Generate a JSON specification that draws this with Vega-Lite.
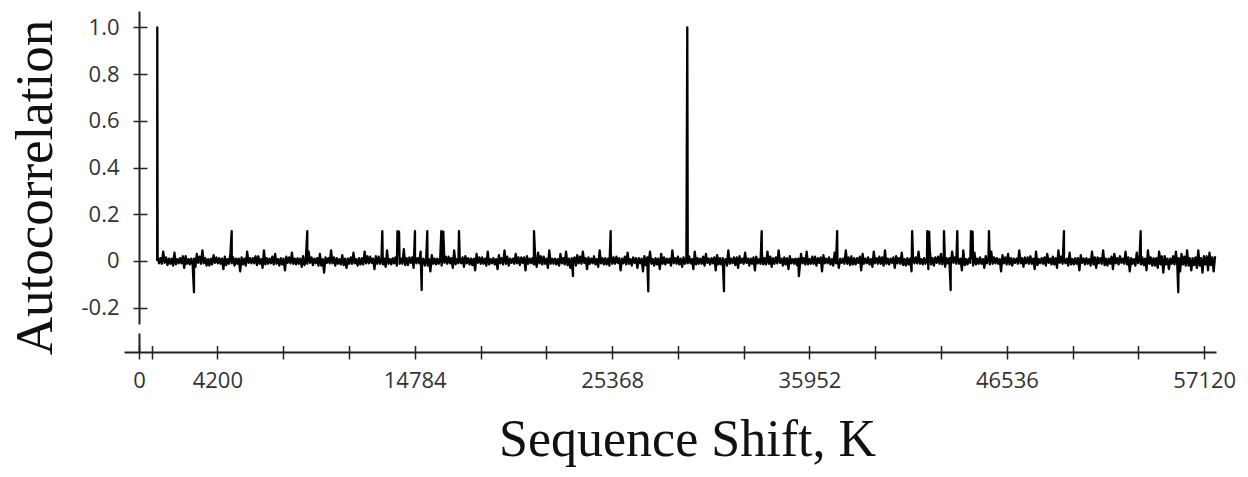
{
"$schema":"https://vega.github.io/schema/vega-lite/v6.json",
"background":"white",
"padding":{"left":8,"top":11,"right":5,"bottom":5},
"config":{"view":{"stroke":null}},
"datasets":{"ac":[
{"k":1000,"r":0.015},{"k":1075,"r":-0.01},{"k":1150,"r":0.012},{"k":1225,"r":-0.012},{"k":1300,"r":0.04},{"k":1375,"r":-0.008},{"k":1450,"r":0.015},{"k":1525,"r":-0.018},{"k":1600,"r":0.01},{"k":1675,"r":-0.012},{"k":1750,"r":0.01},{"k":1825,"r":-0.02},{"k":1900,"r":0.035},{"k":1975,"r":-0.015},{"k":2050,"r":0.008},{"k":2125,"r":-0.01},{"k":2200,"r":0.012},{"k":2275,"r":-0.01},{"k":2350,"r":0.02},{"k":2425,"r":-0.03},
{"k":2500,"r":0.02},{"k":2575,"r":-0.012},{"k":2650,"r":0.008},{"k":2725,"r":-0.015},{"k":2800,"r":0.01},{"k":2875,"r":-0.015},{"k":2950,"r":0.01},{"k":3025,"r":-0.025},{"k":3100,"r":0.03},{"k":3175,"r":-0.008},{"k":3250,"r":0.018},{"k":3325,"r":-0.012},{"k":3400,"r":0.045},{"k":3475,"r":-0.01},{"k":3550,"r":0.012},{"k":3625,"r":-0.02},{"k":3700,"r":0.008},{"k":3775,"r":-0.02},{"k":3850,"r":0.01},{"k":3925,"r":-0.015},
{"k":4000,"r":0.025},{"k":4075,"r":-0.008},{"k":4150,"r":0.015},{"k":4225,"r":-0.01},{"k":4300,"r":0.012},{"k":4375,"r":-0.012},{"k":4450,"r":0.01},{"k":4525,"r":-0.035},{"k":4600,"r":0.018},{"k":4675,"r":-0.018},{"k":4750,"r":0.008},{"k":4825,"r":-0.012},{"k":4900,"r":0.03},{"k":4975,"r":-0.01},{"k":5050,"r":0.015},{"k":5125,"r":-0.02},{"k":5200,"r":0.01},{"k":5275,"r":-0.012},{"k":5350,"r":0.01},{"k":5425,"r":-0.045},
{"k":5500,"r":0.015},{"k":5575,"r":-0.015},{"k":5650,"r":0.01},{"k":5725,"r":-0.02},{"k":5800,"r":0.04},{"k":5875,"r":-0.008},{"k":5950,"r":0.012},{"k":6025,"r":-0.01},{"k":6100,"r":0.012},{"k":6175,"r":-0.01},{"k":6250,"r":0.02},{"k":6325,"r":-0.018},{"k":6400,"r":0.02},{"k":6475,"r":-0.012},{"k":6550,"r":0.008},{"k":6625,"r":-0.03},{"k":6700,"r":0.045},{"k":6775,"r":-0.015},{"k":6850,"r":0.012},{"k":6925,"r":-0.012},
{"k":7000,"r":0.01},{"k":7075,"r":-0.01},{"k":7150,"r":0.018},{"k":7225,"r":-0.015},{"k":7300,"r":0.03},{"k":7375,"r":-0.012},{"k":7450,"r":0.008},{"k":7525,"r":-0.02},{"k":7600,"r":0.012},{"k":7675,"r":-0.015},{"k":7750,"r":0.01},{"k":7825,"r":-0.04},{"k":7900,"r":0.018},{"k":7975,"r":-0.008},{"k":8050,"r":0.015},{"k":8125,"r":-0.01},{"k":8200,"r":0.035},{"k":8275,"r":-0.012},{"k":8350,"r":0.01},{"k":8425,"r":-0.015},
{"k":8500,"r":0.012},{"k":8575,"r":-0.012},{"k":8650,"r":0.01},{"k":8725,"r":-0.025},{"k":8800,"r":0.02},{"k":8875,"r":-0.018},{"k":8950,"r":0.012},{"k":9025,"r":-0.012},{"k":9100,"r":0.04},{"k":9175,"r":-0.008},{"k":9250,"r":0.015},{"k":9325,"r":-0.018},{"k":9400,"r":0.01},{"k":9475,"r":-0.01},{"k":9550,"r":0.012},{"k":9625,"r":-0.02},{"k":9700,"r":0.03},{"k":9775,"r":-0.02},{"k":9850,"r":0.008},{"k":9925,"r":-0.05},
{"k":10000,"r":0.015},{"k":10075,"r":-0.008},{"k":10150,"r":0.012},{"k":10225,"r":-0.01},{"k":10300,"r":0.045},{"k":10375,"r":-0.01},{"k":10450,"r":0.015},{"k":10525,"r":-0.02},{"k":10600,"r":0.012},{"k":10675,"r":-0.012},{"k":10750,"r":0.008},{"k":10825,"r":-0.015},{"k":10900,"r":0.025},{"k":10975,"r":-0.018},{"k":11050,"r":0.01},{"k":11125,"r":-0.03},{"k":11200,"r":0.01},{"k":11275,"r":-0.012},{"k":11350,"r":0.015},{"k":11425,"r":-0.012},
{"k":11500,"r":0.035},{"k":11575,"r":-0.01},{"k":11650,"r":0.008},{"k":11725,"r":-0.02},{"k":11800,"r":0.012},{"k":11875,"r":-0.015},{"k":11950,"r":0.012},{"k":12025,"r":-0.015},{"k":12100,"r":0.04},{"k":12175,"r":-0.01},{"k":12250,"r":0.02},{"k":12325,"r":-0.01},{"k":12400,"r":0.018},{"k":12475,"r":-0.008},{"k":12550,"r":0.01},{"k":12625,"r":-0.035},{"k":12700,"r":0.02},{"k":12775,"r":-0.012},{"k":12850,"r":0.018},{"k":12925,"r":-0.012},
{"k":13000,"r":0.01},{"k":13075,"r":-0.015},{"k":13150,"r":0.01},{"k":13225,"r":-0.025},{"k":13300,"r":0.045},{"k":13375,"r":-0.012},{"k":13450,"r":0.008},{"k":13525,"r":-0.015},{"k":13600,"r":0.012},{"k":13675,"r":-0.01},{"k":13750,"r":0.015},{"k":13825,"r":-0.02},{"k":13900,"r":0.03},{"k":13975,"r":-0.012},{"k":14050,"r":0.01},{"k":14125,"r":-0.012},{"k":14200,"r":0.05},{"k":14275,"r":-0.018},{"k":14350,"r":0.012},{"k":14425,"r":-0.018},
{"k":14500,"r":0.015},{"k":14575,"r":-0.008},{"k":14650,"r":0.015},{"k":14725,"r":-0.03},{"k":14800,"r":0.02},{"k":14875,"r":-0.01},{"k":14950,"r":0.012},{"k":15025,"r":-0.01},{"k":15100,"r":0.04},{"k":15175,"r":-0.015},{"k":15250,"r":0.01},{"k":15325,"r":-0.02},{"k":15400,"r":0.012},{"k":15475,"r":-0.02},{"k":15550,"r":0.008},{"k":15625,"r":-0.045},{"k":15700,"r":0.025},{"k":15775,"r":-0.012},{"k":15850,"r":0.01},{"k":15925,"r":-0.015},
{"k":16000,"r":0.01},{"k":16075,"r":-0.012},{"k":16150,"r":0.01},{"k":16225,"r":-0.02},{"k":16300,"r":0.035},{"k":16375,"r":-0.008},{"k":16450,"r":0.018},{"k":16525,"r":-0.012},{"k":16600,"r":0.018},{"k":16675,"r":-0.01},{"k":16750,"r":0.012},{"k":16825,"r":-0.03},{"k":16900,"r":0.045},{"k":16975,"r":-0.015},{"k":17050,"r":0.008},{"k":17125,"r":-0.01},{"k":17200,"r":0.012},{"k":17275,"r":-0.01},{"k":17350,"r":0.015},{"k":17425,"r":-0.025},
{"k":17500,"r":0.02},{"k":17575,"r":-0.01},{"k":17650,"r":0.012},{"k":17725,"r":-0.015},{"k":17800,"r":0.01},{"k":17875,"r":-0.018},{"k":17950,"r":0.01},{"k":18025,"r":-0.04},{"k":18100,"r":0.03},{"k":18175,"r":-0.008},{"k":18250,"r":0.015},{"k":18325,"r":-0.012},{"k":18400,"r":0.015},{"k":18475,"r":-0.012},{"k":18550,"r":0.01},{"k":18625,"r":-0.02},{"k":18700,"r":0.04},{"k":18775,"r":-0.015},{"k":18850,"r":0.008},{"k":18925,"r":-0.01},
{"k":19000,"r":0.012},{"k":19075,"r":-0.015},{"k":19150,"r":0.008},{"k":19225,"r":-0.035},{"k":19300,"r":0.025},{"k":19375,"r":-0.01},{"k":19450,"r":0.012},{"k":19525,"r":-0.015},{"k":19600,"r":0.045},{"k":19675,"r":-0.012},{"k":19750,"r":0.018},{"k":19825,"r":-0.02},{"k":19900,"r":0.01},{"k":19975,"r":-0.008},{"k":20050,"r":0.01},{"k":20125,"r":-0.012},{"k":20200,"r":0.03},{"k":20275,"r":-0.01},{"k":20350,"r":0.015},{"k":20425,"r":-0.018},
{"k":20500,"r":0.015},{"k":20575,"r":-0.008},{"k":20650,"r":0.015},{"k":20725,"r":-0.04},{"k":20800,"r":0.02},{"k":20875,"r":-0.012},{"k":20950,"r":0.01},{"k":21025,"r":-0.01},{"k":21100,"r":0.012},{"k":21175,"r":-0.015},{"k":21250,"r":0.008},{"k":21325,"r":-0.025},{"k":21400,"r":0.035},{"k":21475,"r":-0.01},{"k":21550,"r":0.02},{"k":21625,"r":-0.015},{"k":21700,"r":0.018},{"k":21775,"r":-0.012},{"k":21850,"r":0.01},{"k":21925,"r":-0.03},
{"k":22000,"r":0.045},{"k":22075,"r":-0.012},{"k":22150,"r":0.01},{"k":22225,"r":-0.012},{"k":22300,"r":0.01},{"k":22375,"r":-0.015},{"k":22450,"r":0.008},{"k":22525,"r":-0.02},{"k":22600,"r":0.03},{"k":22675,"r":-0.01},{"k":22750,"r":0.012},{"k":22825,"r":-0.015},{"k":22900,"r":0.04},{"k":22975,"r":-0.018},{"k":23050,"r":0.01},{"k":23125,"r":-0.03},{"k":23200,"r":0.012},{"k":23275,"r":-0.008},{"k":23350,"r":0.015},{"k":23425,"r":-0.02},
{"k":23500,"r":0.025},{"k":23575,"r":-0.01},{"k":23650,"r":0.018},{"k":23725,"r":-0.012},{"k":23800,"r":0.04},{"k":23875,"r":-0.008},{"k":23950,"r":0.012},{"k":24025,"r":-0.035},{"k":24100,"r":0.015},{"k":24175,"r":-0.012},{"k":24250,"r":0.01},{"k":24325,"r":-0.01},{"k":24400,"r":0.02},{"k":24475,"r":-0.015},{"k":24550,"r":0.008},{"k":24625,"r":-0.025},{"k":24700,"r":0.045},{"k":24775,"r":-0.01},{"k":24850,"r":0.012},{"k":24925,"r":-0.015},
{"k":25000,"r":0.012},{"k":25075,"r":-0.015},{"k":25150,"r":0.01},{"k":25225,"r":-0.02},{"k":25300,"r":0.03},{"k":25375,"r":-0.012},{"k":25450,"r":0.015},{"k":25525,"r":-0.012},{"k":25600,"r":0.018},{"k":25675,"r":-0.008},{"k":25750,"r":0.012},{"k":25825,"r":-0.04},{"k":25900,"r":0.01},{"k":25975,"r":-0.01},{"k":26050,"r":0.018},{"k":26125,"r":-0.015},{"k":26200,"r":0.035},{"k":26275,"r":-0.012},{"k":26350,"r":0.008},{"k":26425,"r":-0.02},
{"k":26500,"r":0.015},{"k":26575,"r":-0.008},{"k":26650,"r":0.012},{"k":26725,"r":-0.03},{"k":26800,"r":0.012},{"k":26875,"r":-0.01},{"k":26950,"r":0.01},{"k":27025,"r":-0.045},{"k":27100,"r":0.02},{"k":27175,"r":-0.018},{"k":27250,"r":0.015},{"k":27325,"r":-0.01},{"k":27400,"r":0.04},{"k":27475,"r":-0.012},{"k":27550,"r":0.008},{"k":27625,"r":-0.02},{"k":27700,"r":0.012},{"k":27775,"r":-0.015},{"k":27850,"r":0.01},{"k":27925,"r":-0.035},
{"k":28000,"r":0.03},{"k":28075,"r":-0.012},{"k":28150,"r":0.015},{"k":28225,"r":-0.015},{"k":28300,"r":0.01},{"k":28375,"r":-0.008},{"k":28450,"r":0.01},{"k":28525,"r":-0.02},{"k":28600,"r":0.045},{"k":28675,"r":-0.01},{"k":28750,"r":0.012},{"k":28825,"r":-0.012},{"k":28900,"r":0.018},{"k":28975,"r":-0.015},{"k":29050,"r":0.01},{"k":29125,"r":-0.025},{"k":29200,"r":0.015},{"k":29275,"r":-0.012},{"k":29350,"r":0.008},{"k":29425,"r":-0.01},
{"k":29500,"r":0.02},{"k":29575,"r":-0.01},{"k":29650,"r":0.008},{"k":29725,"r":-0.035},{"k":29800,"r":0.04},{"k":29875,"r":-0.015},{"k":29950,"r":0.012},{"k":30025,"r":-0.012},{"k":30100,"r":0.01},{"k":30175,"r":-0.012},{"k":30250,"r":0.018},{"k":30325,"r":-0.02},{"k":30400,"r":0.03},{"k":30475,"r":-0.008},{"k":30550,"r":0.01},{"k":30625,"r":-0.015},{"k":30700,"r":0.012},{"k":30775,"r":-0.01},{"k":30850,"r":0.015},{"k":30925,"r":-0.04},
{"k":31000,"r":0.025},{"k":31075,"r":-0.015},{"k":31150,"r":0.012},{"k":31225,"r":-0.015},{"k":31300,"r":0.012},{"k":31375,"r":-0.01},{"k":31450,"r":0.008},{"k":31525,"r":-0.02},{"k":31600,"r":0.045},{"k":31675,"r":-0.012},{"k":31750,"r":0.01},{"k":31825,"r":-0.01},{"k":31900,"r":0.015},{"k":31975,"r":-0.018},{"k":32050,"r":0.015},{"k":32125,"r":-0.03},{"k":32200,"r":0.02},{"k":32275,"r":-0.008},{"k":32350,"r":0.01},{"k":32425,"r":-0.012},
{"k":32500,"r":0.035},{"k":32575,"r":-0.008},{"k":32650,"r":0.01},{"k":32725,"r":-0.02},{"k":32800,"r":0.01},{"k":32875,"r":-0.012},{"k":32950,"r":0.015},{"k":33025,"r":-0.04},{"k":33100,"r":0.018},{"k":33175,"r":-0.01},{"k":33250,"r":0.008},{"k":33325,"r":-0.012},{"k":33400,"r":0.03},{"k":33475,"r":-0.015},{"k":33550,"r":0.012},{"k":33625,"r":-0.015},{"k":33700,"r":0.04},{"k":33775,"r":-0.012},{"k":33850,"r":0.018},{"k":33925,"r":-0.025},
{"k":34000,"r":0.012},{"k":34075,"r":-0.012},{"k":34150,"r":0.015},{"k":34225,"r":-0.01},{"k":34300,"r":0.045},{"k":34375,"r":-0.008},{"k":34450,"r":0.01},{"k":34525,"r":-0.02},{"k":34600,"r":0.015},{"k":34675,"r":-0.015},{"k":34750,"r":0.012},{"k":34825,"r":-0.035},{"k":34900,"r":0.02},{"k":34975,"r":-0.01},{"k":35050,"r":0.008},{"k":35125,"r":-0.012},{"k":35200,"r":0.01},{"k":35275,"r":-0.018},{"k":35350,"r":0.01},{"k":35425,"r":-0.03},
{"k":35500,"r":0.03},{"k":35575,"r":-0.01},{"k":35650,"r":0.012},{"k":35725,"r":-0.015},{"k":35800,"r":0.04},{"k":35875,"r":-0.015},{"k":35950,"r":0.008},{"k":36025,"r":-0.012},{"k":36100,"r":0.018},{"k":36175,"r":-0.012},{"k":36250,"r":0.018},{"k":36325,"r":-0.02},{"k":36400,"r":0.012},{"k":36475,"r":-0.008},{"k":36550,"r":0.015},{"k":36625,"r":-0.045},{"k":36700,"r":0.025},{"k":36775,"r":-0.01},{"k":36850,"r":0.01},{"k":36925,"r":-0.01},
{"k":37000,"r":0.015},{"k":37075,"r":-0.015},{"k":37150,"r":0.008},{"k":37225,"r":-0.02},{"k":37300,"r":0.035},{"k":37375,"r":-0.01},{"k":37450,"r":0.012},{"k":37525,"r":-0.03},{"k":37600,"r":0.01},{"k":37675,"r":-0.008},{"k":37750,"r":0.01},{"k":37825,"r":-0.012},{"k":37900,"r":0.045},{"k":37975,"r":-0.012},{"k":38050,"r":0.015},{"k":38125,"r":-0.018},{"k":38200,"r":0.02},{"k":38275,"r":-0.015},{"k":38350,"r":0.012},{"k":38425,"r":-0.015},
{"k":38500,"r":0.012},{"k":38575,"r":-0.008},{"k":38650,"r":0.018},{"k":38725,"r":-0.04},{"k":38800,"r":0.03},{"k":38875,"r":-0.012},{"k":38950,"r":0.01},{"k":39025,"r":-0.01},{"k":39100,"r":0.015},{"k":39175,"r":-0.015},{"k":39250,"r":0.008},{"k":39325,"r":-0.025},{"k":39400,"r":0.04},{"k":39475,"r":-0.01},{"k":39550,"r":0.012},{"k":39625,"r":-0.012},{"k":39700,"r":0.018},{"k":39775,"r":-0.012},{"k":39850,"r":0.015},{"k":39925,"r":-0.02},
{"k":40000,"r":0.045},{"k":40075,"r":-0.012},{"k":40150,"r":0.01},{"k":40225,"r":-0.015},{"k":40300,"r":0.01},{"k":40375,"r":-0.008},{"k":40450,"r":0.015},{"k":40525,"r":-0.03},{"k":40600,"r":0.02},{"k":40675,"r":-0.01},{"k":40750,"r":0.012},{"k":40825,"r":-0.012},{"k":40900,"r":0.035},{"k":40975,"r":-0.018},{"k":41050,"r":0.008},{"k":41125,"r":-0.02},{"k":41200,"r":0.012},{"k":41275,"r":-0.015},{"k":41350,"r":0.01},{"k":41425,"r":-0.045},
{"k":41500,"r":0.02},{"k":41575,"r":-0.01},{"k":41650,"r":0.015},{"k":41725,"r":-0.01},{"k":41800,"r":0.04},{"k":41875,"r":-0.012},{"k":41950,"r":0.008},{"k":42025,"r":-0.015},{"k":42100,"r":0.012},{"k":42175,"r":-0.012},{"k":42250,"r":0.01},{"k":42325,"r":-0.035},{"k":42400,"r":0.05},{"k":42475,"r":-0.015},{"k":42550,"r":0.012},{"k":42625,"r":-0.02},{"k":42700,"r":0.015},{"k":42775,"r":-0.008},{"k":42850,"r":0.018},{"k":42925,"r":-0.012},
{"k":43000,"r":0.03},{"k":43075,"r":-0.015},{"k":43150,"r":0.01},{"k":43225,"r":-0.025},{"k":43300,"r":0.012},{"k":43375,"r":-0.01},{"k":43450,"r":0.012},{"k":43525,"r":-0.02},{"k":43600,"r":0.04},{"k":43675,"r":-0.008},{"k":43750,"r":0.015},{"k":43825,"r":-0.012},{"k":43900,"r":0.018},{"k":43975,"r":-0.012},{"k":44050,"r":0.01},{"k":44125,"r":-0.04},{"k":44200,"r":0.045},{"k":44275,"r":-0.018},{"k":44350,"r":0.008},{"k":44425,"r":-0.015},
{"k":44500,"r":0.01},{"k":44575,"r":-0.008},{"k":44650,"r":0.012},{"k":44725,"r":-0.02},{"k":44800,"r":0.035},{"k":44875,"r":-0.015},{"k":44950,"r":0.01},{"k":45025,"r":-0.012},{"k":45100,"r":0.015},{"k":45175,"r":-0.012},{"k":45250,"r":0.008},{"k":45325,"r":-0.03},{"k":45400,"r":0.02},{"k":45475,"r":-0.01},{"k":45550,"r":0.018},{"k":45625,"r":-0.015},{"k":45700,"r":0.04},{"k":45775,"r":-0.012},{"k":45850,"r":0.015},{"k":45925,"r":-0.01},
{"k":46000,"r":0.012},{"k":46075,"r":-0.012},{"k":46150,"r":0.008},{"k":46225,"r":-0.045},{"k":46300,"r":0.025},{"k":46375,"r":-0.01},{"k":46450,"r":0.015},{"k":46525,"r":-0.015},{"k":46600,"r":0.03},{"k":46675,"r":-0.015},{"k":46750,"r":0.012},{"k":46825,"r":-0.02},{"k":46900,"r":0.01},{"k":46975,"r":-0.008},{"k":47050,"r":0.01},{"k":47125,"r":-0.012},{"k":47200,"r":0.045},{"k":47275,"r":-0.01},{"k":47350,"r":0.012},{"k":47425,"r":-0.025},
{"k":47500,"r":0.015},{"k":47575,"r":-0.01},{"k":47650,"r":0.015},{"k":47725,"r":-0.012},{"k":47800,"r":0.02},{"k":47875,"r":-0.012},{"k":47950,"r":0.01},{"k":48025,"r":-0.035},{"k":48100,"r":0.04},{"k":48175,"r":-0.018},{"k":48250,"r":0.008},{"k":48325,"r":-0.01},{"k":48400,"r":0.012},{"k":48475,"r":-0.012},{"k":48550,"r":0.015},{"k":48625,"r":-0.02},{"k":48700,"r":0.03},{"k":48775,"r":-0.008},{"k":48850,"r":0.01},{"k":48925,"r":-0.015},
{"k":49000,"r":0.018},{"k":49075,"r":-0.015},{"k":49150,"r":0.012},{"k":49225,"r":-0.03},{"k":49300,"r":0.045},{"k":49375,"r":-0.008},{"k":49450,"r":0.018},{"k":49525,"r":-0.012},{"k":49600,"r":0.01},{"k":49675,"r":-0.01},{"k":49750,"r":0.01},{"k":49825,"r":-0.02},{"k":49900,"r":0.035},{"k":49975,"r":-0.015},{"k":50050,"r":0.008},{"k":50125,"r":-0.015},{"k":50200,"r":0.012},{"k":50275,"r":-0.012},{"k":50350,"r":0.012},{"k":50425,"r":-0.04},
{"k":50500,"r":0.025},{"k":50575,"r":-0.008},{"k":50650,"r":0.01},{"k":50725,"r":-0.015},{"k":50800,"r":0.012},{"k":50875,"r":-0.012},{"k":50950,"r":0.008},{"k":51025,"r":-0.02},{"k":51100,"r":0.04},{"k":51175,"r":-0.015},{"k":51250,"r":0.015},{"k":51325,"r":-0.03},{"k":51400,"r":0.015},{"k":51475,"r":-0.01},{"k":51550,"r":0.012},{"k":51625,"r":-0.012},{"k":51700,"r":0.045},{"k":51775,"r":-0.018},{"k":51850,"r":0.01},{"k":51925,"r":-0.02},
{"k":52000,"r":0.01},{"k":52075,"r":-0.012},{"k":52150,"r":0.018},{"k":52225,"r":-0.035},{"k":52300,"r":0.03},{"k":52375,"r":-0.01},{"k":52450,"r":0.012},{"k":52525,"r":-0.015},{"k":52600,"r":0.02},{"k":52675,"r":-0.008},{"k":52750,"r":0.01},{"k":52825,"r":-0.012},{"k":52900,"r":0.04},{"k":52975,"r":-0.015},{"k":53050,"r":0.015},{"k":53125,"r":-0.045},{"k":53200,"r":0.012},{"k":53275,"r":-0.012},{"k":53350,"r":0.008},{"k":53425,"r":-0.02},
{"k":53500,"r":0.035},{"k":53575,"r":-0.01},{"k":53650,"r":0.012},{"k":53725,"r":-0.015},{"k":53800,"r":0.015},{"k":53875,"r":-0.018},{"k":53950,"r":0.01},{"k":54025,"r":-0.04},{"k":54100,"r":0.045},{"k":54175,"r":-0.012},{"k":54250,"r":0.015},{"k":54325,"r":-0.02},{"k":54400,"r":0.012},{"k":54475,"r":-0.02},{"k":54550,"r":0.012},{"k":54625,"r":-0.03},{"k":54700,"r":0.04},{"k":54775,"r":-0.015},{"k":54850,"r":0.02},{"k":54925,"r":-0.05},
{"k":55000,"r":0.02},{"k":55075,"r":-0.015},{"k":55150,"r":0.01},{"k":55225,"r":-0.035},{"k":55300,"r":0.01},{"k":55375,"r":-0.012},{"k":55450,"r":0.02},{"k":55525,"r":-0.015},{"k":55600,"r":0.04},{"k":55675,"r":-0.018},{"k":55750,"r":0.012},{"k":55825,"r":-0.045},{"k":55900,"r":0.03},{"k":55975,"r":-0.015},{"k":56050,"r":0.018},{"k":56125,"r":-0.02},{"k":56200,"r":0.045},{"k":56275,"r":-0.02},{"k":56350,"r":0.012},{"k":56425,"r":-0.04},
{"k":56500,"r":0.012},{"k":56575,"r":-0.018},{"k":56650,"r":0.015},{"k":56725,"r":-0.03},{"k":56800,"r":0.045},{"k":56875,"r":-0.02},{"k":56950,"r":0.012},{"k":57025,"r":-0.05},{"k":57100,"r":0.02},{"k":57175,"r":-0.015},{"k":57250,"r":0.02},{"k":57325,"r":-0.04},{"k":57400,"r":0.035},{"k":57475,"r":-0.018},{"k":57550,"r":0.015},{"k":57625,"r":-0.045},{"k":57700,"r":0.02},
{"k":975,"r":0},{"k":980,"r":1.0},
{"k":2949,"r":-0.134},{"k":4971,"r":0.128},{"k":9024,"r":0.128},{"k":13046,"r":0.128},
{"k":13860,"r":0.128},{"k":13945,"r":0.125},{"k":14799,"r":0.128},{"k":15158,"r":-0.125},{"k":15458,"r":0.128},
{"k":16210,"r":0.128},{"k":16320,"r":0.125},{"k":17158,"r":0.128},{"k":21180,"r":0.128},{"k":23271,"r":-0.065},
{"k":25292,"r":0.128},{"k":27308,"r":-0.13},{"k":29400,"r":1.0},{"k":31367,"r":-0.13},{"k":33389,"r":0.128},
{"k":35383,"r":-0.065},{"k":37437,"r":0.128},{"k":41458,"r":0.128},{"k":42270,"r":0.128},
{"k":42370,"r":0.125},{"k":43164,"r":0.128},{"k":43523,"r":-0.125},{"k":43877,"r":0.128},{"k":44610,"r":0.128},
{"k":44700,"r":0.125},{"k":45576,"r":0.128},{"k":49598,"r":0.128},{"k":53710,"r":0.128},{"k":55727,"r":-0.134}
]},
"spacing":9,
"bounds":"flush",
"vconcat":[
{
"width":1077,"height":313,
"data":{"name":"ac"},
"mark":{"type":"line","color":"#000","strokeWidth":2.3,"strokeJoin":"round"},
"encoding":{
"x":{"field":"k","type":"quantitative","scale":{"domain":[0,57750],"nice":false,"zero":false},"axis":null},
"y":{"field":"r","type":"quantitative","scale":{"domain":[-0.27,1.07],"nice":false,"zero":false},
"axis":{"values":[-0.2,0,0.2,0.4,0.6,0.8,1.0],
"labelExpr":"datum.value == 0 ? '0' : (datum.value < 0 ? '-' + format(-datum.value, '.1f') : format(datum.value, '.1f'))",
"labelFont":"Open Sans","labelFontSize":22,"labelColor":"#333","labelPadding":14,"labelFlush":false,"labelOverlap":false,
"tickSize":6,"tickWidth":1.5,"tickColor":"#222","domainColor":"#222","domainWidth":2,
"grid":true,"gridColor":"#222","gridWidth":1.5,"gridDash":[8,3000],"gridOpacity":1,
"title":"Autocorrelation","titleFont":"Liberation Serif","titleFontSize":53,"titleFontWeight":"normal","titleColor":"#111",
"titleX":-88,"titleY":176,"titleAngle":270,"titleAlign":"center","titleBaseline":"alphabetic"}}
}
},
{
"width":1077,"height":19,
"data":{"name":"ac"},
"mark":{"type":"point","opacity":0},
"encoding":{
"x":{"field":"k","type":"quantitative","scale":{"domain":[0,57750],"nice":false,"zero":false},
"axis":{"orient":"bottom","values":[0,672,4200,7728,11256,14784,18312,21840,25368,28896,32424,35952,39480,43008,46536,50064,53592,57120],
"labelExpr":"indexof([0,4200,14784,25368,35952,46536,57120], datum.value) >= 0 ? format(datum.value, 'd') : ''",
"labelFont":"Open Sans","labelFontSize":22,"labelColor":"#333","labelPadding":11,"labelFlush":false,"labelOverlap":false,
"tickSize":7,"tickWidth":1.5,"tickColor":"#222","domainColor":"#222","domainWidth":2,
"grid":true,"gridColor":"#222","gridWidth":1.5,"gridDash":[0,12.5,6.5,100],"gridOpacity":1,
"title":"Sequence Shift, K","titleFont":"Liberation Serif","titleFontSize":52,"titleFontWeight":"normal","titleColor":"#111",
"titleX":548,"titleY":103,"titleAlign":"center","titleBaseline":"alphabetic"}},
"y":{"field":"r","type":"quantitative","scale":{"domain":[-1.1,1.1],"nice":false,"zero":false},
"axis":{"values":[-1.1],"labels":false,"tickSize":15,"tickWidth":2,"tickColor":"#222","domainColor":"#222","domainWidth":2,"grid":false,"title":null}}
}
}
]
}
